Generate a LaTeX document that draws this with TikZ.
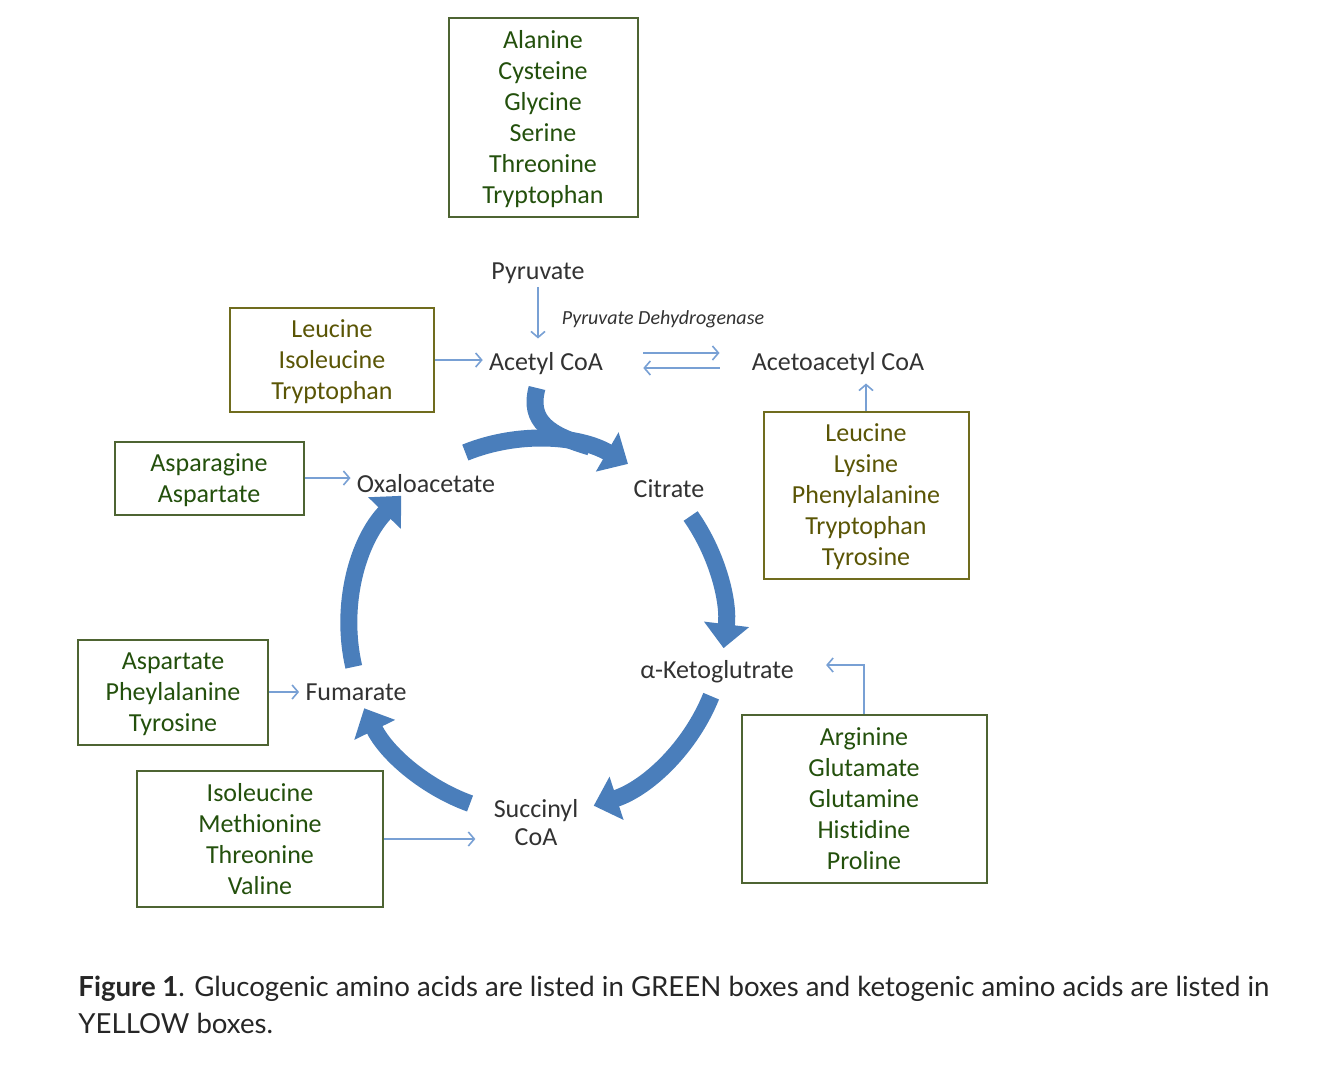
\documentclass[tikz,border=0pt]{standalone}
\usepackage{fontspec}
\setmainfont{Carlito}[Ligatures=CommonOff]
\newfontfamily\captionfont{Lato}
\usetikzlibrary{arrows.meta,positioning,calc}
\definecolor{cycblue}{RGB}{74,126,187}
\definecolor{feedblue}{RGB}{120,160,212}
\definecolor{glucoline}{RGB}{78,100,50}
\definecolor{glucotext}{RGB}{35,80,12}
\definecolor{ketoline}{RGB}{112,108,30}
\definecolor{ketotext}{RGB}{90,85,5}
\definecolor{metabtext}{RGB}{50,50,50}

\begin{document}
\begin{tikzpicture}[x=0.5pt,y=-0.5pt]
    \tikzstyle{box} = [rectangle, draw, line width=1pt, align=center,
               inner sep=0pt, text depth=0pt, font=\fontsize{13}{15.5}\selectfont]
    \tikzstyle{greenbox} = [box, draw=glucoline, text=glucotext]
    \tikzstyle{yellowbox} = [box, draw=ketoline, text=ketotext]
    \tikzstyle{metab} = [text=metabtext, font=\fontsize{13}{14}\selectfont,
               align=center, inner sep=3pt]
    \tikzstyle{feed} = [draw=feedblue, line width=0.8pt,
               -{Straight Barb[length=3pt,width=7pt]}]
    \tikzstyle{tca} = [draw=cycblue, line width=8.5pt,
               -{Triangle[length=12pt,width=22pt]}]

    \useasboundingbox (0,0) rectangle (1334,1071);

    % metabolites
    \node[metab] (pyr) at (538,273) {Pyruvate};
    \node[metab] (acetyl) at (546,364) {Acetyl CoA};
    \node[metab] (acetoacetyl) at (838,364) {Acetoacetyl CoA};
    \node[metab] (oxalo) at (426,484) {Oxaloacetate};
    \node[metab] (citrate) at (669,489) {Citrate};
    \node[metab] (akg) at (717,672) {α-Ketoglutrate};
    \node[metab] (fum) at (356,692) {Fumarate};
    \node[metab] (succ) at (536,823) {Succinyl\\CoA};
    \node[text=metabtext, font=\itshape\fontsize{10}{12}\selectfont] (pdh)
        at (663,319) {Pyruvate Dehydrogenase};

    % amino acid boxes
    \node[greenbox, minimum width=94.5pt, minimum height=99.5pt] (gTop) at (543,117)
        {Alanine\\Cysteine\\Glycine\\Serine\\Threonine\\Tryptophan};
    \node[yellowbox, minimum width=102pt, minimum height=52pt] (kLeft) at (332,360)
        {Leucine\\Isoleucine\\Tryptophan};
    \node[yellowbox, minimum width=102.5pt, minimum height=83.5pt] (kRight) at (866,495)
        {Leucine\\Lysine\\Phenylalanine\\Tryptophan\\Tyrosine};
    \node[greenbox, minimum width=94.5pt, minimum height=36.5pt] (gOxalo) at (209,478)
        {Asparagine\\Aspartate};
    \node[greenbox, minimum width=122.5pt, minimum height=84pt] (gAkg) at (864,799)
        {Arginine\\Glutamate\\Glutamine\\Histidine\\Proline};
    \node[greenbox, minimum width=95pt, minimum height=52.5pt] (gFum) at (173,692)
        {Aspartate\\Pheylalanine\\Tyrosine};
    \node[greenbox, minimum width=123pt, minimum height=68pt] (gSucc) at (260,839)
        {Isoleucine\\Methionine\\Threonine\\Valine};

    % thin feeding arrows
    \draw[feed, shorten <=-1.5pt, shorten >=4pt] (pyr.south) -- (pyr.south |- acetyl.north);
    \draw[feed] (kLeft.east) -- (kLeft.east -| acetyl.west);
    \draw[feed] ([xshift=17pt,yshift=5.5pt]acetyl.east) -- ([xshift=-13pt,yshift=5.5pt]acetoacetyl.west);
    \draw[feed] ([xshift=-13pt,yshift=-2pt]acetoacetyl.west) -- ([xshift=17pt,yshift=-2pt]acetyl.east);
    \draw[feed, shorten >=1pt] (kRight.north) -- (kRight.north |- acetoacetyl.south);
    \draw[feed] (gOxalo.east) -- (gOxalo.east -| oxalo.west);
    \draw[feed] (gAkg.north) |- ([xshift=13pt,yshift=3.5pt]akg.east);
    \draw[feed] (gFum.east) -- (gFum.east -| fum.west);
    \draw[feed] (gSucc.east) -- ([xshift=-6pt]gSucc.east -| succ.west);

    % citric acid cycle
    \coordinate (hub) at (535,625);
    \draw[tca] (hub) ++(-112:186) arc[start angle=-112, end angle=-60, radius=186];
    \draw[draw=cycblue, line width=8.5pt] (537,388) .. controls (528,422) and (550,435) .. (590,447);
    \draw[tca] (hub) ++(-35:190) arc[start angle=-35, end angle=7, radius=190];
    \draw[tca] (hub) ++(22:190) arc[start angle=22, end angle=72, radius=190];
    \draw[tca] (hub) ++(110:190) arc[start angle=110, end angle=154, radius=190];
    \draw[tca] (hub) ++(167:186) arc[start angle=167, end angle=224, radius=186];

    % caption
    \node[anchor=north west, inner sep=0pt, align=left, text=black!85,
          font=\captionfont\fontsize{13.8}{18.5}\selectfont] (caption) at (78,976)
        {\textbf{Figure 1}. Glucogenic amino acids are listed in GREEN boxes and ketogenic amino acids are listed in\\YELLOW boxes.};
\end{tikzpicture}
\end{document}
